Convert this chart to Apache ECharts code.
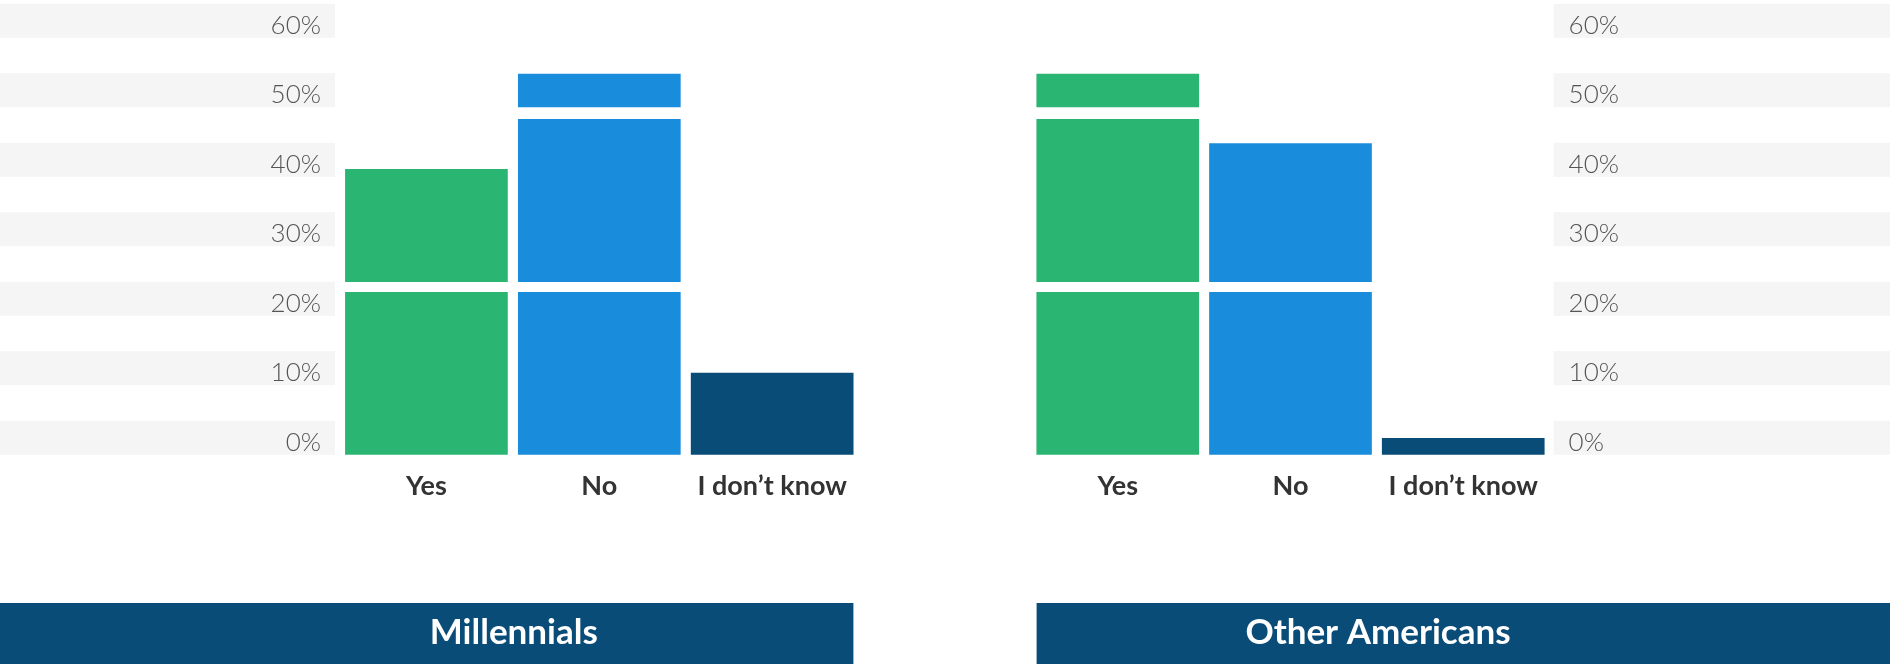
<!DOCTYPE html>
<html>
<head>
<meta charset="utf-8">
<style>
  html, body { margin: 0; padding: 0; background: #ffffff; }
  #chart { width: 1890px; height: 664px; }
</style>
<script src="https://cdn.jsdelivr.net/npm/echarts@6/dist/echarts.min.js"></script>
</head>
<body>
<div id="chart"></div>
<script>
// Answers to the survey question, in percent
const categories = ['Yes', 'No', 'I don\u2019t know'];
const millennials = [41.1, 54.8, 11.8];
const otherAmericans = [54.8, 44.8, 2.4];
const panelTitles = ['Millennials', 'Other Americans'];

// Value axis ticks (percent)
const yTicks = [0, 10, 20, 30, 40, 50, 60];

// White breaks cut across the columns, as [from, to] in percent
const barBreaks = [[23.4, 24.85], [48.3, 50.0]];

const answerColors = ['#2bb573', '#198cdb', '#0a4c78'];
const bannerColor = '#0a4c78';
const stripeColor = '#f5f5f5';

const chart = echarts.init(document.getElementById('chart'), null, { renderer: 'canvas' });

const tickLabelBase = {
  fontFamily: 'Lato',
  fontWeight: 300,
  fontSize: 26,
  color: '#555555',
  formatter: v => v + '%',
  backgroundColor: stripeColor,
  verticalAlign: 'bottom',
  height: 25,
  lineHeight: 25,
  width: 345
};

function valueAxis(gridIndex, side) {
  return {
    type: 'value',
    gridIndex: gridIndex,
    position: side,
    min: yTicks[0],
    max: yTicks[yTicks.length - 1],
    interval: yTicks[1] - yTicks[0],
    splitLine: { show: false },
    axisLine: { show: false },
    axisTick: { show: false },
    axisLabel: Object.assign({}, tickLabelBase, side === 'left'
      ? { align: 'right', margin: 5, padding: [9, 14, 0, 0] }
      : { align: 'left', margin: 4, padding: [9, 0, 0, 15] })
  };
}

function categoryAxis(gridIndex) {
  return {
    type: 'category',
    gridIndex: gridIndex,
    data: categories,
    axisLine: { show: false },
    axisTick: { show: false },
    axisLabel: {
      interval: 0,
      fontFamily: 'Lato',
      fontWeight: 700,
      fontSize: 27,
      color: '#333333',
      margin: 18
    }
  };
}

function barSeries(gridIndex, values) {
  return {
    type: 'bar',
    xAxisIndex: gridIndex,
    yAxisIndex: gridIndex,
    barWidth: 162.7,
    z: 2,
    data: values.map((v, i) => ({ value: v, itemStyle: { color: answerColors[i] } }))
  };
}

function breakSeries(gridIndex) {
  return {
    type: 'custom',
    xAxisIndex: gridIndex,
    yAxisIndex: gridIndex,
    z: 5,
    silent: true,
    encode: { x: 0, y: [1, 2] },
    data: barBreaks.map(b => [0, b[0], b[1]]),
    renderItem: function (params, api) {
      const cs = params.coordSys;
      const yLow = api.coord([0, api.value(1)])[1];
      const yHigh = api.coord([0, api.value(2)])[1];
      return {
        type: 'rect',
        shape: { x: cs.x, y: yHigh, width: cs.width, height: yLow - yHigh },
        style: { fill: '#ffffff' }
      };
    }
  };
}

function banner(x, width, textCenter, title) {
  return [
    {
      type: 'rect',
      shape: { x: x, y: 603, width: width, height: 61 },
      style: { fill: bannerColor },
      silent: true
    },
    {
      type: 'text',
      x: textCenter,
      y: 633,
      style: {
        text: title,
        fill: '#ffffff',
        font: '700 35px Lato',
        align: 'center',
        verticalAlign: 'middle'
      },
      silent: true
    }
  ];
}

chart.setOption({
  backgroundColor: '#ffffff',
  animation: false,
  grid: [
    { left: 340, right: 1031.4, top: 37.7, bottom: 209.3, containLabel: false, outerBoundsMode: 'none' },
    { left: 1031.4, right: 340.4, top: 37.7, bottom: 209.3, containLabel: false, outerBoundsMode: 'none' }
  ],
  xAxis: [categoryAxis(0), categoryAxis(1)],
  yAxis: [valueAxis(0, 'left'), valueAxis(1, 'right')],
  series: [
    barSeries(0, millennials),
    barSeries(1, otherAmericans),
    breakSeries(0),
    breakSeries(1)
  ],
  graphic: [].concat(
    banner(0, 853.4, 513.8, panelTitles[0]),
    banner(1036.6, 853.4, 1378, panelTitles[1])
  )
});
</script>
</body>
</html>
